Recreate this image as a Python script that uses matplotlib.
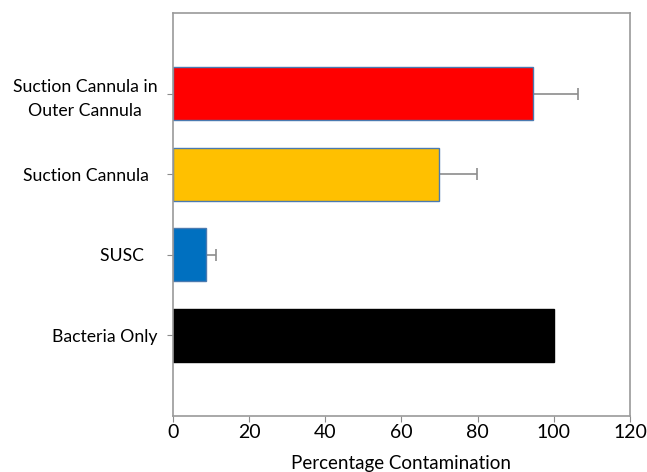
import matplotlib
matplotlib.use('Agg')
from matplotlib import pyplot as plt

# data, bottom to top
labels = ['Bacteria Only', 'SUSC   ', 'Suction Cannula  ', 'Suction Cannula in\nOuter Cannula']
values = [100, 8.8, 69.9, 94.4]
errors = [0, 2.5, 10.0, 12.0]
colors = ['#000000', '#0070C0', '#FFC000', '#FF0000']
edges = ['#000000', '#4A7AB0', '#4A7AB0', '#4A7AB0']
xticks = [0, 20, 40, 60, 80, 100, 120]

plt.rcParams['font.family'] = ['Lato', 'DejaVu Sans']

fig = plt.figure(figsize=(6.47, 4.72), dpi=100)
ax = fig.add_axes([0.267, 0.119, 0.707, 0.853])

pos = list(range(len(labels)))
ax.barh(pos, values, height=0.66, color=colors, edgecolor=edges, linewidth=1.0, zorder=2)

# symmetric error bars behind the bars, so only the right half shows
for p, v, e in zip(pos, values, errors):
    if e > 0:
        ax.errorbar(v, p, xerr=e, fmt='none', ecolor='#8c8c8c',
                    elinewidth=1.2, capsize=4, capthick=1.2, zorder=1)

ax.set_xlim(0, 120)
ax.set_ylim(-1, 4)
ax.set_xticks(xticks)
ax.set_xticklabels([str(t) for t in xticks], fontsize=14)
ax.set_yticks(pos)
ax.set_yticklabels(labels, fontsize=12.7, multialignment='center', linespacing=1.6)
ax.tick_params(axis='y', length=4, pad=7, color='#8c8c8c')
ax.tick_params(axis='x', length=4, pad=2, color='#8c8c8c')
for s in ax.spines.values():
    s.set_color('#9a9a9a')
    s.set_linewidth(1.2)

ax.set_xlabel('Percentage Contamination', fontsize=13.5, labelpad=10)

fig.savefig('out.png', dpi=100)
